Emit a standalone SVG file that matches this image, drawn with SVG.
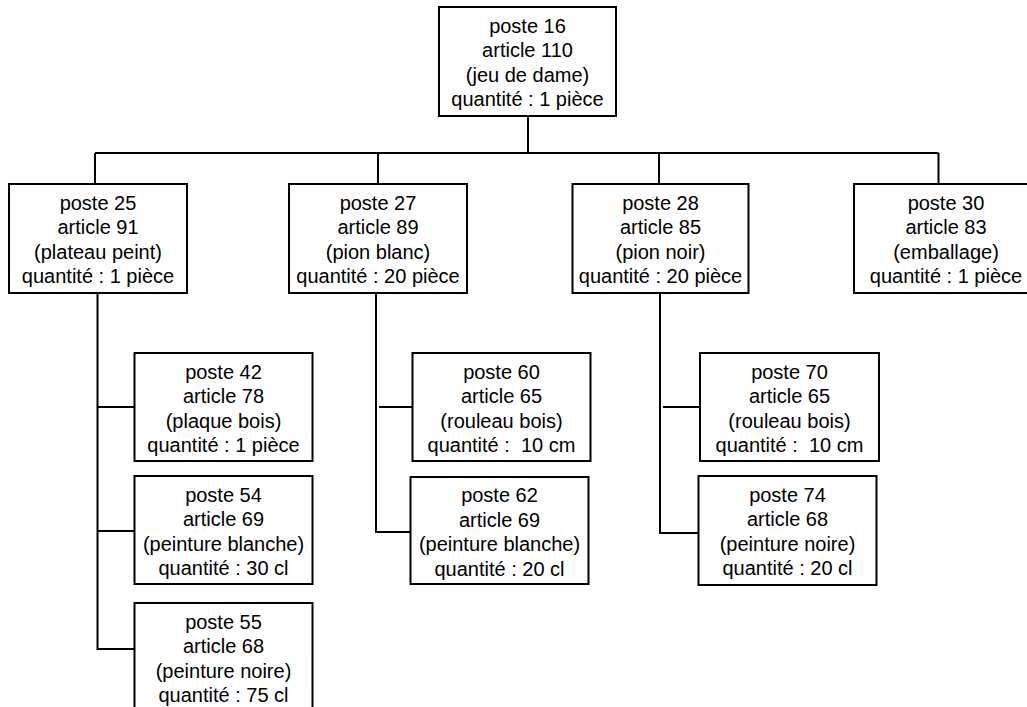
<svg xmlns="http://www.w3.org/2000/svg" width="1027" height="707" viewBox="0 0 1027 707">
<style>
.box{fill:#fff;stroke:#000;stroke-width:2}
.t{font-family:"Liberation Sans",Arial,sans-serif;font-size:20px;fill:#000;text-anchor:middle;white-space:pre}
.c{fill:none;stroke:#000;stroke-width:2}
</style>
<rect width="1027" height="707" fill="#fff"/>
<g id="connectors">
<path class="c" d="M528 116V153M95 153H938.5M95 153V184M378 153V184M659 153V184M938.5 153V184"/>
<path class="c" d="M97.5 293V649H136.5M97.5 407H134.5M97.5 531H134.5"/>
<path class="c" d="M376 293V532H410.5M379 407H412.5"/>
<path class="c" d="M660 293V533H698.5M663 407H700"/>
</g>
<g id="p16"><rect class="box" x="439" y="7" width="177" height="109"/>
<text class="t" x="527.5" y="32.5">poste 16</text><text class="t" x="527.5" y="57">article 110</text><text class="t" x="527.5" y="81.5">(jeu de dame)</text><text class="t" x="527.5" y="106">quantité : 1 pièce</text></g>
<g id="p25"><rect class="box" x="9" y="184" width="178" height="109"/>
<text class="t" x="98" y="209.5">poste 25</text><text class="t" x="98" y="234">article 91</text><text class="t" x="98" y="258.5">(plateau peint)</text><text class="t" x="98" y="283">quantité : 1 pièce</text></g>
<g id="p27"><rect class="box" x="289" y="184" width="178" height="109"/>
<text class="t" x="378" y="209.5">poste 27</text><text class="t" x="378" y="234">article 89</text><text class="t" x="378" y="258.5">(pion blanc)</text><text class="t" x="378" y="283">quantité : 20 pièce</text></g>
<g id="p28"><rect class="box" x="572.5" y="184" width="176" height="109"/>
<text class="t" x="660.5" y="209.5">poste 28</text><text class="t" x="660.5" y="234">article 85</text><text class="t" x="660.5" y="258.5">(pion noir)</text><text class="t" x="660.5" y="283">quantité : 20 pièce</text></g>
<g id="p30"><rect class="box" x="854" y="184" width="184" height="109"/>
<text class="t" x="946" y="209.5">poste 30</text><text class="t" x="946" y="234">article 83</text><text class="t" x="946" y="258.5">(emballage)</text><text class="t" x="946" y="283">quantité : 1 pièce</text></g>
<g id="p42"><rect class="box" x="134.5" y="353" width="178" height="108"/>
<text class="t" x="223.5" y="378.5">poste 42</text><text class="t" x="223.5" y="403">article 78</text><text class="t" x="223.5" y="427.5">(plaque bois)</text><text class="t" x="223.5" y="452">quantité : 1 pièce</text></g>
<g id="p54"><rect class="box" x="134.5" y="476" width="178" height="108"/>
<text class="t" x="223.5" y="501.5">poste 54</text><text class="t" x="223.5" y="526">article 69</text><text class="t" x="223.5" y="550.5">(peinture blanche)</text><text class="t" x="223.5" y="575">quantité : 30 cl</text></g>
<g id="p55"><rect class="box" x="134.5" y="603" width="178" height="120"/>
<text class="t" x="223.5" y="628.5">poste 55</text><text class="t" x="223.5" y="653">article 68</text><text class="t" x="223.5" y="677.5">(peinture noire)</text><text class="t" x="223.5" y="702">quantité : 75 cl</text></g>
<g id="p60"><rect class="box" x="412.5" y="353" width="178" height="108"/>
<text class="t" x="501.5" y="378.5">poste 60</text><text class="t" x="501.5" y="403">article 65</text><text class="t" x="501.5" y="427.5">(rouleau bois)</text><text class="t" x="501.5" y="452">quantité :  10 cm</text></g>
<g id="p62"><rect class="box" x="410.5" y="477" width="178" height="107"/>
<text class="t" x="499.5" y="502">poste 62</text><text class="t" x="499.5" y="526.5">article 69</text><text class="t" x="499.5" y="551">(peinture blanche)</text><text class="t" x="499.5" y="575.5">quantité : 20 cl</text></g>
<g id="p70"><rect class="box" x="700" y="353" width="179" height="108"/>
<text class="t" x="789.5" y="378.5">poste 70</text><text class="t" x="789.5" y="403">article 65</text><text class="t" x="789.5" y="427.5">(rouleau bois)</text><text class="t" x="789.5" y="452">quantité :  10 cm</text></g>
<g id="p74"><rect class="box" x="698.5" y="476" width="178" height="109"/>
<text class="t" x="787.5" y="501.5">poste 74</text><text class="t" x="787.5" y="526">article 68</text><text class="t" x="787.5" y="550.5">(peinture noire)</text><text class="t" x="787.5" y="575">quantité : 20 cl</text></g>
</svg>
